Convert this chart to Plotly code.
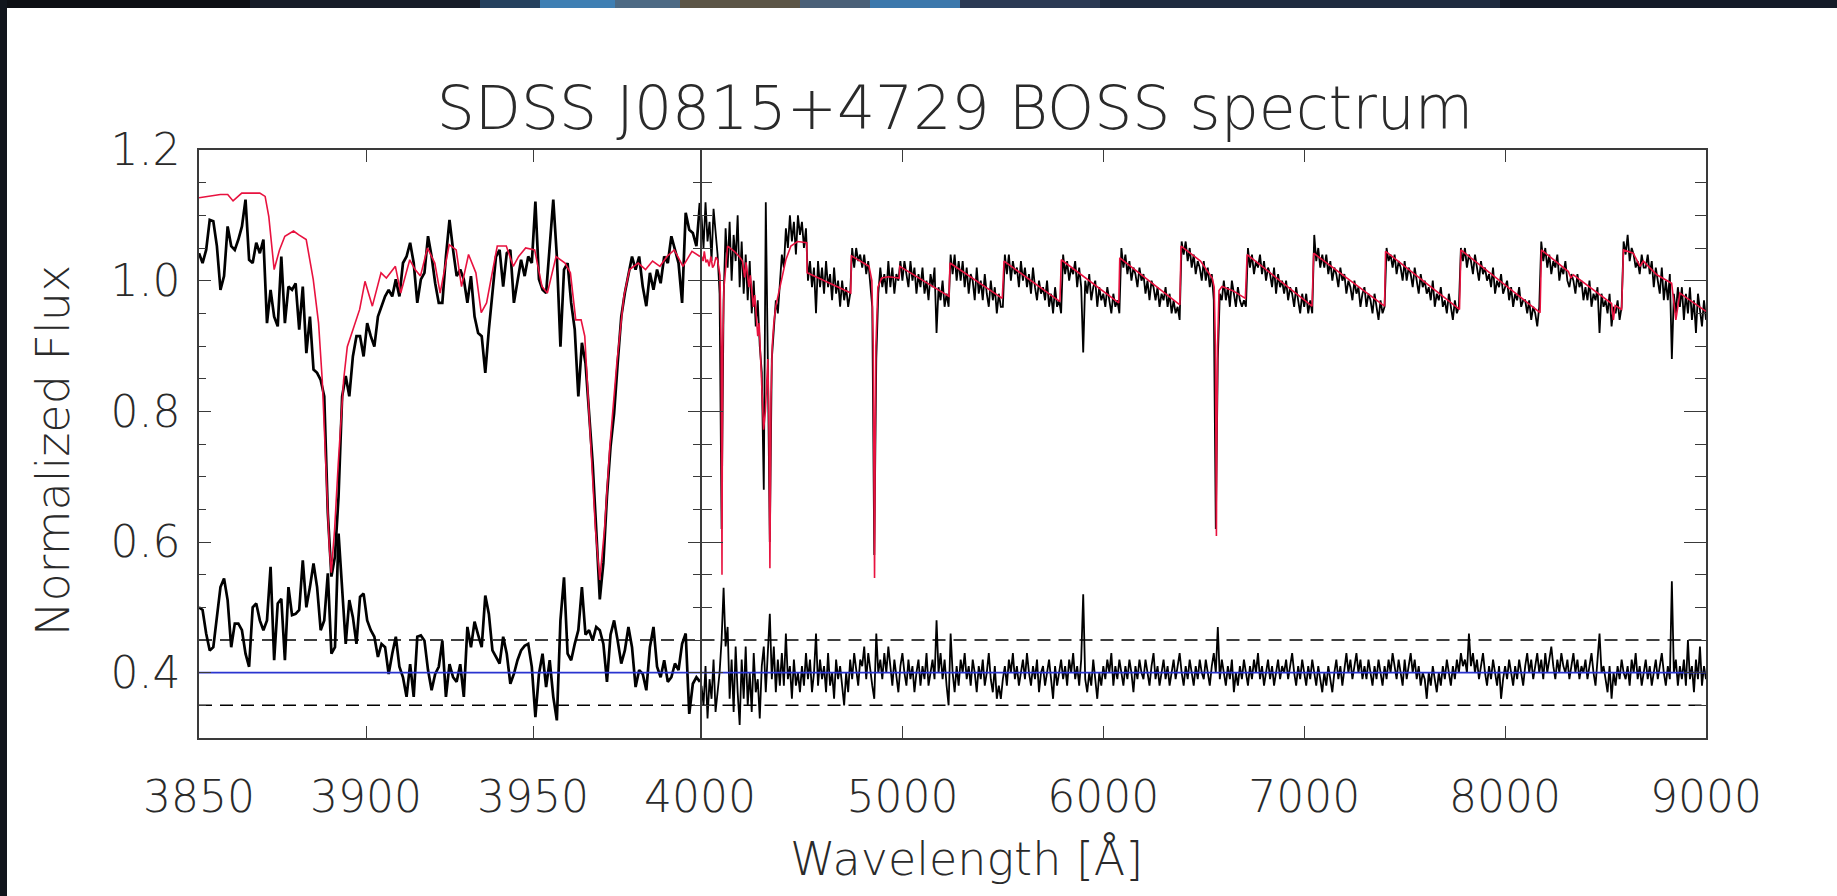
import numpy as np
import plotly.graph_objects as go

# ---------------- data ----------------
# Blue-end zoom panel (3850-4000 A): observed spectrum on a 141-pixel grid
wl_blue = np.linspace(3850, 4000, 141)
flux_blue = [
    1.042, 1.027, 1.047, 1.093, 1.091, 1.053, 0.986, 1.007, 1.083, 1.053,
    1.047, 1.063, 1.083, 1.124, 1.032, 1.027, 1.058, 1.042, 1.063, 0.935,
    0.986, 0.945, 0.930, 1.037, 0.935, 0.991, 0.986, 0.996, 0.925, 0.991,
    0.889, 0.945, 0.864, 0.859, 0.848, 0.823, 0.644, 0.547, 0.578, 0.670,
    0.823, 0.854, 0.823, 0.884, 0.915, 0.915, 0.884, 0.935, 0.915, 0.899,
    0.945, 0.961, 0.976, 0.986, 0.976, 1.002, 0.976, 1.027, 1.037, 1.058,
    1.027, 0.966, 1.002, 1.012, 1.068, 1.037, 0.996, 0.966, 0.966, 1.037,
    1.093, 1.047, 1.007, 1.017, 1.002, 0.966, 1.007, 0.945, 0.920, 0.915,
    0.859, 0.925, 0.986, 1.037, 1.047, 0.991, 1.042, 1.047, 0.966, 1.002,
    1.032, 1.007, 1.037, 1.027, 1.121, 1.002, 0.986, 0.981, 1.047, 1.124,
    1.037, 0.899, 1.017, 1.027, 0.966, 0.925, 0.823, 0.905, 0.874, 0.797,
    0.721, 0.619, 0.512, 0.568, 0.670, 0.746, 0.797, 0.874, 0.945, 0.981,
    1.007, 1.037, 1.017, 1.037, 0.991, 0.961, 1.012, 0.986, 1.017, 0.996,
    1.037, 1.027, 1.068, 1.047, 1.027, 0.966, 1.104, 1.078, 1.073, 1.053,
    1.119]
resid_blue = [
    0.500, 0.496, 0.460, 0.434, 0.439, 0.490, 0.531, 0.544, 0.511, 0.439,
    0.475, 0.475, 0.465, 0.429, 0.409, 0.500, 0.506, 0.480, 0.465, 0.480,
    0.562, 0.419, 0.506, 0.513, 0.419, 0.531, 0.488, 0.490, 0.496, 0.572,
    0.500, 0.531, 0.567, 0.531, 0.465, 0.480, 0.552, 0.429, 0.439, 0.613,
    0.531, 0.444, 0.511, 0.485, 0.444, 0.516, 0.521, 0.480, 0.465, 0.455,
    0.424, 0.444, 0.439, 0.398, 0.429, 0.455, 0.409, 0.393, 0.363, 0.413,
    0.363, 0.455, 0.457, 0.449, 0.404, 0.373, 0.398, 0.409, 0.449, 0.363,
    0.413, 0.393, 0.386, 0.413, 0.363, 0.470, 0.439, 0.478, 0.458, 0.439,
    0.518, 0.490, 0.434, 0.424, 0.414, 0.455, 0.429, 0.383, 0.398, 0.419,
    0.434, 0.441, 0.444, 0.409, 0.332, 0.398, 0.429, 0.378, 0.419, 0.363,
    0.327, 0.480, 0.546, 0.429, 0.419, 0.444, 0.465, 0.531, 0.458, 0.465,
    0.449, 0.470, 0.465, 0.444, 0.386, 0.458, 0.480, 0.449, 0.414, 0.434,
    0.470, 0.439, 0.378, 0.404, 0.398, 0.373, 0.439, 0.470, 0.409, 0.393,
    0.419, 0.386, 0.393, 0.414, 0.404, 0.444, 0.460, 0.337, 0.383, 0.393,
    0.386]
model_blue_wl = [
    3850.0, 3856.4, 3858.6, 3860.2, 3862.8, 3868.2, 3869.8, 3870.9, 3872.5, 3874.1,
    3875.7, 3878.3, 3879.9, 3882.1, 3884.2, 3885.8, 3886.9, 3888.0, 3889.0, 3889.6,
    3890.6, 3891.7, 3893.3, 3894.4, 3896.5, 3898.1, 3899.7, 3901.9, 3904.5, 3906.1,
    3908.8, 3910.4, 3913.1, 3914.7, 3916.3, 3918.4, 3920.6, 3922.2, 3924.9, 3927.0,
    3928.6, 3930.7, 3932.9, 3934.5, 3936.1, 3937.7, 3939.3, 3942.0, 3944.1, 3945.7,
    3947.8, 3950.5, 3952.7, 3954.3, 3956.9, 3959.6, 3961.2, 3962.8, 3964.4, 3965.5,
    3967.1, 3968.7, 3970.0, 3971.4, 3973.0, 3975.1, 3977.2, 3978.9, 3981.5, 3983.7,
    3985.8, 3988.0, 3990.1, 3992.3, 3994.9, 3997.6, 4000.0]
model_blue_flux = [
    1.127, 1.132, 1.132, 1.122, 1.134, 1.134, 1.129, 1.098, 1.017, 1.047,
    1.068, 1.076, 1.070, 1.063, 1.002, 0.935, 0.848, 0.721, 0.593, 0.553,
    0.619, 0.721, 0.848, 0.899, 0.930, 0.956, 0.999, 0.961, 1.012, 1.004,
    1.022, 0.981, 1.032, 1.017, 1.007, 1.050, 1.027, 0.981, 1.055, 1.047,
    0.991, 1.040, 1.012, 0.951, 0.966, 1.007, 1.053, 1.053, 1.022, 1.037,
    1.050, 1.047, 0.991, 0.981, 1.037, 1.027, 1.012, 0.940, 0.940, 0.915,
    0.772, 0.619, 0.542, 0.619, 0.746, 0.874, 0.976, 1.017, 1.027, 1.017,
    1.030, 1.022, 1.037, 1.047, 1.022, 1.045, 1.037]

# Full BOSS range panel (4000-9000 A): observed spectrum, 10 A sampling
wl_red = np.arange(4000, 9001, 10)
flux_red = [
    1.10, 1.05, 1.12, 1.06, 1.09, 1.03, 1.11, 1.07, 1.04, 0.98,  # 4000
    0.62, 0.97, 1.08, 1.02, 1.09, 1.00, 1.07, 1.03, 1.10, 0.99,  # 4100
    1.06, 0.98, 1.04, 0.97, 1.03, 0.95, 1.00, 0.93, 0.97, 0.90,  # 4200
    0.86, 0.68, 1.12, 0.88, 0.60, 0.88, 0.93, 0.97, 0.95, 1.00,  # 4300
    1.04, 1.02, 1.08, 1.05, 1.10, 1.06, 1.09, 1.04, 1.10, 1.07,  # 4400
    1.09, 1.05, 1.08, 1.00, 1.03, 0.99, 1.02, 0.95, 1.03, 0.99,  # 4500
    1.02, 0.98, 1.03, 0.99, 1.01, 0.97, 1.02, 0.98, 1.00, 0.96,  # 4600
    1.00, 0.97, 0.99, 0.96, 0.98, 1.05, 1.02, 1.05, 1.03, 1.04,  # 4700
    1.02, 1.04, 1.01, 1.03, 1.00, 0.96, 0.58, 0.88, 0.98, 1.02,  # 4800
    0.99, 1.01, 0.98, 1.03, 0.99, 1.02, 0.98, 1.01, 1.00, 1.03,  # 4900
    1.00, 1.03, 1.01, 0.99, 1.03, 1.00, 1.02, 0.98, 1.01, 0.99,  # 5000
    1.02, 0.98, 1.00, 0.97, 1.01, 0.99, 1.02, 0.92, 0.99, 0.97,  # 5100
    1.00, 0.96, 0.98, 0.96, 1.04, 1.01, 1.04, 1.00, 1.03, 1.00,  # 5200
    1.03, 0.99, 1.02, 0.98, 1.01, 1.00, 0.97, 1.02, 0.98, 1.00,  # 5300
    0.97, 1.01, 0.98, 0.96, 1.00, 0.97, 0.99, 0.95, 0.98, 0.96,  # 5400
    0.96, 1.04, 1.01, 1.04, 1.00, 1.03, 1.01, 1.02, 0.99, 1.03,  # 5500
    1.00, 1.02, 0.99, 1.01, 0.98, 1.02, 0.99, 0.97, 1.00, 0.98,  # 5600
    0.99, 0.97, 1.00, 0.96, 0.98, 0.95, 0.99, 0.96, 0.97, 0.95,  # 5700
    1.04, 1.01, 1.03, 1.00, 1.02, 1.01, 1.03, 0.99, 1.02, 0.99,  # 5800
    0.89, 1.00, 0.98, 1.01, 0.97, 0.99, 1.00, 0.96, 0.99, 0.97,  # 5900
    0.98, 0.96, 0.99, 0.97, 0.95, 0.98, 0.96, 0.97, 0.95, 1.05,  # 6000
    1.02, 1.04, 1.01, 1.03, 1.00, 1.02, 1.01, 0.99, 1.02, 1.00,  # 6100
    1.01, 0.98, 1.00, 0.97, 1.00, 0.99, 0.97, 0.99, 0.96, 0.98,  # 6200
    0.97, 0.99, 0.96, 0.98, 0.95, 0.97, 0.95, 0.96, 0.94, 1.06,  # 6300
    1.04, 1.06, 1.03, 1.05, 1.02, 1.04, 1.01, 1.03, 1.02, 1.00,  # 6400
    1.03, 1.00, 1.02, 0.99, 1.01, 0.97, 0.62, 0.88, 0.98, 0.97,  # 6500
    1.00, 0.97, 0.99, 0.96, 1.00, 0.98, 0.96, 0.99, 0.97, 0.96,  # 6600
    0.97, 0.96, 1.05, 1.02, 1.04, 1.01, 1.03, 1.02, 1.04, 1.01,  # 6700
    1.03, 1.00, 1.02, 1.01, 0.99, 1.02, 0.98, 1.01, 0.99, 1.00,  # 6800
    0.98, 1.00, 0.97, 0.99, 0.98, 0.96, 0.99, 0.97, 0.95, 0.98,  # 6900
    0.96, 0.98, 0.95, 0.97, 0.95, 1.07, 1.03, 1.05, 1.02, 1.04,  # 7000
    1.02, 1.04, 1.01, 1.03, 1.00, 1.02, 1.01, 0.99, 1.02, 1.00,  # 7100
    1.01, 0.98, 1.00, 0.99, 0.97, 1.00, 0.98, 0.99, 0.96, 0.98,  # 7200
    0.99, 0.96, 0.98, 0.97, 0.95, 0.98, 0.96, 0.94, 0.97, 0.95,  # 7300
    0.96, 1.05, 1.03, 1.04, 1.02, 1.04, 1.01, 1.03, 1.02, 1.00,  # 7400
    1.03, 1.00, 1.02, 1.01, 0.99, 1.02, 1.00, 0.98, 1.01, 0.99,  # 7500
    1.00, 0.98, 0.99, 0.97, 1.00, 0.96, 0.98, 0.97, 0.99, 0.96,  # 7600
    0.97, 0.95, 0.98, 0.96, 0.94, 0.97, 0.95, 0.96, 1.05, 1.03,  # 7700
    1.05, 1.02, 1.04, 1.03, 1.01, 1.04, 1.02, 1.00, 1.03, 1.01,  # 7800
    1.02, 1.00, 1.01, 0.99, 1.02, 0.98, 1.00, 0.99, 1.01, 0.98,  # 7900
    0.99, 1.00, 0.97, 0.99, 0.96, 0.98, 0.97, 0.99, 0.96, 0.97,  # 8000
    0.97, 0.95, 0.97, 0.94, 0.96, 0.95, 0.93, 0.96, 1.06, 1.03,  # 8100
    1.05, 1.02, 1.04, 1.01, 1.03, 1.02, 1.04, 1.00, 1.02, 1.01,  # 8200
    1.03, 1.00, 0.99, 1.01, 1.00, 0.98, 1.01, 0.99, 1.00, 0.97,  # 8300
    0.99, 0.97, 1.00, 0.96, 0.98, 0.97, 0.99, 0.92, 0.98, 0.96,  # 8400
    0.97, 0.95, 0.98, 0.93, 0.96, 0.95, 0.97, 0.94, 0.96, 1.06,  # 8500
    1.04, 1.07, 1.03, 1.05, 1.04, 1.02, 1.03, 1.01, 1.04, 1.02,  # 8600
    1.02, 1.04, 1.01, 1.03, 0.99, 1.02, 1.00, 0.98, 1.02, 0.97,  # 8700
    1.00, 0.97, 1.01, 0.88, 0.98, 0.95, 0.99, 0.96, 0.99, 0.94,  # 8800
    0.98, 0.95, 0.99, 0.94, 0.97, 0.92, 0.98, 0.95, 0.93, 0.97,  # 8900
    0.94]
resid_red = [
    0.38, 0.35, 0.41, 0.33, 0.39, 0.36, 0.42, 0.34, 0.37, 0.40,  # 4000
    0.45, 0.53, 0.44, 0.47, 0.36, 0.42, 0.34, 0.44, 0.37, 0.32,  # 4100
    0.42, 0.36, 0.44, 0.35, 0.40, 0.34, 0.43, 0.37, 0.39, 0.33,  # 4200
    0.41, 0.44, 0.37, 0.43, 0.49, 0.39, 0.44, 0.37, 0.42, 0.38,  # 4300
    0.43, 0.38, 0.46, 0.39, 0.41, 0.36, 0.42, 0.38, 0.40, 0.37,  # 4400
    0.41, 0.38, 0.43, 0.39, 0.42, 0.37, 0.40, 0.46, 0.38, 0.42,  # 4500
    0.39, 0.41, 0.37, 0.43, 0.38, 0.40, 0.36, 0.42, 0.39, 0.41,  # 4600
    0.38, 0.35, 0.40, 0.37, 0.42, 0.39, 0.43, 0.40, 0.38, 0.42,  # 4700
    0.41, 0.44, 0.39, 0.43, 0.40, 0.38, 0.36, 0.46, 0.40, 0.42,  # 4800
    0.39, 0.43, 0.40, 0.44, 0.41, 0.38, 0.42, 0.39, 0.37, 0.41,  # 4900
    0.43, 0.40, 0.38, 0.42, 0.39, 0.41, 0.37, 0.40, 0.42, 0.38,  # 5000
    0.41, 0.39, 0.43, 0.38, 0.40, 0.42, 0.39, 0.48, 0.40, 0.43,  # 5100
    0.39, 0.42, 0.38, 0.35, 0.46, 0.40, 0.37, 0.41, 0.38, 0.42,  # 5200
    0.40, 0.43, 0.39, 0.41, 0.38, 0.42, 0.40, 0.37, 0.41, 0.39,  # 5300
    0.42, 0.38, 0.40, 0.43, 0.39, 0.37, 0.41, 0.36, 0.38, 0.36,  # 5400
    0.39, 0.41, 0.38, 0.42, 0.40, 0.43, 0.39, 0.41, 0.38, 0.40,  # 5500
    0.42, 0.39, 0.43, 0.40, 0.38, 0.41, 0.39, 0.42, 0.37, 0.40,  # 5600
    0.41, 0.38, 0.40, 0.42, 0.39, 0.36, 0.41, 0.38, 0.40, 0.42,  # 5700
    0.39, 0.41, 0.38, 0.42, 0.40, 0.43, 0.39, 0.41, 0.38, 0.42,  # 5800
    0.52, 0.39, 0.37, 0.40, 0.38, 0.42, 0.39, 0.36, 0.40, 0.38,  # 5900
    0.41, 0.39, 0.42, 0.40, 0.43, 0.38, 0.41, 0.39, 0.42, 0.40,  # 6000
    0.38, 0.41, 0.39, 0.42, 0.40, 0.37, 0.41, 0.39, 0.42, 0.40,  # 6100
    0.39, 0.42, 0.40, 0.38, 0.41, 0.43, 0.39, 0.41, 0.38, 0.40,  # 6200
    0.42, 0.39, 0.41, 0.38, 0.40, 0.42, 0.39, 0.41, 0.43, 0.40,  # 6300
    0.38, 0.41, 0.39, 0.42, 0.40, 0.38, 0.41, 0.39, 0.42, 0.40,  # 6400
    0.39, 0.42, 0.40, 0.38, 0.41, 0.43, 0.40, 0.47, 0.39, 0.42,  # 6500
    0.40, 0.38, 0.41, 0.39, 0.42, 0.37, 0.40, 0.38, 0.41, 0.39,  # 6600
    0.42, 0.40, 0.38, 0.41, 0.39, 0.42, 0.40, 0.43, 0.39, 0.41,  # 6700
    0.38, 0.40, 0.42, 0.39, 0.41, 0.38, 0.40, 0.42, 0.39, 0.41,  # 6800
    0.40, 0.42, 0.39, 0.41, 0.43, 0.40, 0.38, 0.41, 0.39, 0.42,  # 6900
    0.40, 0.38, 0.41, 0.39, 0.42, 0.40, 0.38, 0.41, 0.39, 0.37,  # 7000
    0.40, 0.38, 0.41, 0.39, 0.37, 0.40, 0.42, 0.39, 0.41, 0.38,  # 7100
    0.41, 0.43, 0.40, 0.42, 0.39, 0.41, 0.43, 0.40, 0.42, 0.39,  # 7200
    0.41, 0.39, 0.42, 0.40, 0.38, 0.41, 0.39, 0.42, 0.40, 0.38,  # 7300
    0.41, 0.39, 0.42, 0.40, 0.43, 0.41, 0.39, 0.42, 0.40, 0.38,  # 7400
    0.42, 0.39, 0.41, 0.43, 0.40, 0.42, 0.39, 0.41, 0.38, 0.40,  # 7500
    0.39, 0.36, 0.40, 0.38, 0.41, 0.39, 0.37, 0.40, 0.38, 0.41,  # 7600
    0.39, 0.42, 0.40, 0.38, 0.41, 0.39, 0.42, 0.40, 0.43, 0.41,  # 7700
    0.42, 0.40, 0.46, 0.41, 0.43, 0.40, 0.42, 0.39, 0.41, 0.43,  # 7800
    0.40, 0.38, 0.41, 0.39, 0.42, 0.40, 0.38, 0.41, 0.36, 0.39,  # 7900
    0.41, 0.39, 0.42, 0.40, 0.38, 0.41, 0.39, 0.42, 0.40, 0.38,  # 8000
    0.41, 0.43, 0.40, 0.42, 0.39, 0.41, 0.43, 0.40, 0.42, 0.39,  # 8100
    0.43, 0.40, 0.42, 0.44, 0.41, 0.39, 0.42, 0.40, 0.43, 0.41,  # 8200
    0.40, 0.42, 0.39, 0.41, 0.43, 0.40, 0.42, 0.39, 0.41, 0.40,  # 8300
    0.42, 0.39, 0.41, 0.43, 0.40, 0.38, 0.42, 0.46, 0.40, 0.41,  # 8400
    0.39, 0.37, 0.41, 0.36, 0.40, 0.38, 0.41, 0.39, 0.42, 0.40,  # 8500
    0.39, 0.41, 0.38, 0.42, 0.40, 0.43, 0.39, 0.41, 0.38, 0.40,  # 8600
    0.42, 0.39, 0.41, 0.38, 0.40, 0.42, 0.39, 0.41, 0.43, 0.40,  # 8700
    0.38, 0.41, 0.39, 0.54, 0.40, 0.42, 0.38, 0.41, 0.39, 0.42,  # 8800
    0.38, 0.45, 0.39, 0.41, 0.37, 0.42, 0.39, 0.44, 0.38, 0.41,  # 8900
    0.39]
model_red_wl = [
    4000, 4008, 4014, 4022, 4030, 4038, 4047, 4055, 4063, 4072, 4080, 4092,
    4098, 4100.5, 4102, 4103.5, 4106, 4112, 4121, 4130, 4163, 4188, 4204,
    4215, 4222, 4236, 4243, 4258, 4265, 4280, 4287, 4300, 4309, 4318, 4324,
    4330, 4335, 4338, 4340.5, 4343, 4346, 4352, 4360, 4370, 4395, 4420, 4445,
    4478, 4524, 4526, 4743, 4746, 4834, 4848, 4855, 4859, 4861.3, 4864, 4868,
    4878, 4897, 4930, 4984, 4987, 5232, 5237, 5497, 5506, 5784, 5791, 6077,
    6082, 6381, 6387, 6484, 6542, 6552, 6558, 6561, 6563, 6565, 6569, 6576,
    6591, 6649, 6707, 6716, 7039, 7047, 7400, 7405, 7773, 7780, 8174, 8181,
    8315, 8327, 8340, 8530, 8539, 8548, 8580, 8589, 8638, 8672, 8688, 8755,
    8829, 8850, 8870, 9000]
model_red_flux = [
    1.037, 1.030, 1.045, 1.028, 1.032, 1.022, 1.037, 1.020, 1.024, 1.036, 1.032, 1.008,
    0.900, 0.720, 0.550, 0.720, 0.900, 0.990, 1.022, 1.053, 1.045, 1.037, 1.030,
    1.005, 1.028, 0.990, 1.008, 0.960, 0.978, 0.915, 0.935, 0.843, 0.772, 0.800, 0.840,
    0.880, 0.800, 0.680, 0.560, 0.680, 0.820, 0.900, 0.935, 0.961, 0.996, 1.032, 1.053,
    1.060, 1.058, 1.012, 0.981, 1.038, 1.022, 1.000, 0.900, 0.720, 0.545, 0.720, 0.900,
    0.990, 1.004, 1.006, 1.004, 1.022, 0.976, 1.027, 0.973, 1.030, 0.968, 1.032, 0.966,
    1.035, 0.963, 1.053, 1.030, 1.004, 0.990, 0.900, 0.750, 0.609, 0.750, 0.900, 0.985,
    0.991, 0.984, 0.973, 1.040, 0.961, 1.042, 0.961, 1.045, 0.956, 1.047, 0.951, 1.047,
    1.014, 1.004, 1.009, 0.965, 0.940, 0.962, 0.956, 1.047, 1.042, 1.022, 1.030, 1.009,
    0.996, 0.940, 0.981, 0.953]

resid_offset = 0.4          # residual zero level
resid_limits = [0.35, 0.45]  # dashed reference levels

# ---------------- styling ----------------
FONT = "DejaVu Sans"
TXT = "#2a2a2a"
FRAME = "#3a3a3a"
RED = "#e8123f"
BLUE = "#2a35d0"
W, H = 1837, 896
ML, MR, MT, MB = 199, 131, 150, 158
PW = W - ML - MR
PH = H - MT - MB
LW = 1.5
split_l = 501.0 / PW
split_r = (501.0 + LW) / PW

fig = go.Figure()

# left panel
fig.add_trace(go.Scatter(x=wl_blue, y=flux_blue, mode="lines",
                         line=dict(color="black", width=2.7), xaxis="x", yaxis="y"))
fig.add_trace(go.Scatter(x=model_blue_wl, y=model_blue_flux, mode="lines",
                         line=dict(color=RED, width=1.6), xaxis="x", yaxis="y"))
fig.add_trace(go.Scatter(x=wl_blue, y=resid_blue, mode="lines",
                         line=dict(color="black", width=2.7), xaxis="x", yaxis="y"))
# right panel
fig.add_trace(go.Scatter(x=wl_red, y=flux_red, mode="lines",
                         line=dict(color="black", width=1.8), xaxis="x2", yaxis="y2"))
fig.add_trace(go.Scatter(x=model_red_wl, y=model_red_flux, mode="lines",
                         line=dict(color=RED, width=1.6), xaxis="x2", yaxis="y2"))
fig.add_trace(go.Scatter(x=wl_red, y=resid_red, mode="lines",
                         line=dict(color="black", width=1.8), xaxis="x2", yaxis="y2"))

# zero level and dashed limits in both panels
for xa, ya, xr in (("x", "y", [3850, 4000]), ("x2", "y2", [4000, 9000])):
    fig.add_trace(go.Scatter(x=xr, y=[resid_offset, resid_offset], mode="lines",
                             line=dict(color=BLUE, width=1.6), xaxis=xa, yaxis=ya))
    for lv in resid_limits:
        fig.add_trace(go.Scatter(x=xr, y=[lv, lv], mode="lines",
                                 line=dict(color="black", width=1.5, dash="13px,8px"),
                                 xaxis=xa, yaxis=ya))

tickfont = dict(family=FONT, size=44, color=TXT, weight=200)
minor_y = [round(0.3 + 0.05 * i, 2) for i in range(19)]
common_x = dict(showgrid=False, zeroline=False, showline=True, linecolor=FRAME,
                linewidth=LW, mirror="ticks", ticks="inside", ticklen=12,
                tickwidth=1.3, tickcolor=FRAME, tickfont=tickfont, ticklabelstandoff=19)
common_y = dict(showgrid=False, zeroline=False, showline=True, linecolor=FRAME,
                linewidth=LW, mirror="ticks", ticks="inside", tickwidth=1.3,
                tickcolor=FRAME, range=[0.3, 1.2], domain=[0, 1])

fig.update_layout(
    width=W, height=H,
    margin=dict(l=ML, r=MR, t=MT, b=MB),
    paper_bgcolor="white", plot_bgcolor="white",
    showlegend=False,
    title=dict(text="SDSS J0815+4729 BOSS spectrum", x=955 / W, xref="container",
               y=1 - 108 / H, yref="container", xanchor="center", yanchor="middle",
               font=dict(family=FONT, size=60, color=TXT, weight=200)),
    xaxis=dict(domain=[0, split_l], range=[3850, 4000], anchor="y",
               tickvals=[3850, 3900, 3950, 4000],
               ticktext=["3850", "3900", "3950", "4000"], **common_x),
    xaxis2=dict(domain=[split_r, 1], range=[4000, 9000], anchor="y2",
                tickvals=[5000, 6000, 7000, 8000, 9000],
                ticktext=["5000", "6000", "7000", "8000", "9000"], **common_x),
    yaxis=dict(anchor="x", ticklen=12, tickvals=[0.4, 0.6, 0.8, 1.0, 1.2],
               ticktext=["0.4", "0.6", "0.8", "1.0", "1.2"], tickfont=tickfont,
               ticklabelstandoff=8,
               minor=dict(tickvals=minor_y, ticklen=7, ticks="inside",
                          tickcolor=FRAME, tickwidth=1.2),
               **common_y),
    yaxis2=dict(anchor="x2", ticklen=22, tickvals=[0.4, 0.6, 0.8, 1.0, 1.2],
                showticklabels=False,
                minor=dict(tickvals=minor_y, ticklen=11, ticks="inside",
                           tickcolor=FRAME, tickwidth=1.2),
                **common_y),
)

# axis titles
fig.add_annotation(text="Normalized Flux", textangle=-90, showarrow=False,
                   xref="paper", yref="paper", x=(53 - ML) / PW, y=(H - MB - 451) / PH,
                   xanchor="center", yanchor="middle",
                   font=dict(family=FONT, size=46, color=TXT, weight=200))
fig.add_annotation(text="Wavelength [Å]", showarrow=False,
                   xref="paper", yref="paper", x=(966 - ML) / PW, y=(H - MB - 859) / PH,
                   xanchor="center", yanchor="middle",
                   font=dict(family=FONT, size=46, color=TXT, weight=200))

# dark picture border (top strip and left strip)
def px(xp):
    return (xp - ML) / PW

def py(yp):
    return (H - MB - yp) / PH

top_strip = [(0, 250, "#0d0f14"), (250, 480, "#171d28"), (480, 540, "#26425f"),
             (540, 615, "#3f7fb3"), (615, 680, "#4d6a84"), (680, 800, "#5c5546"),
             (800, 870, "#4a6078"), (870, 960, "#3c78ac"), (960, 1100, "#2b3a54"),
             (1100, 1500, "#1f2b40"), (1500, 1837, "#141b28")]
for x0, x1, c in top_strip:
    fig.add_shape(type="rect", xref="paper", yref="paper", x0=px(x0), x1=px(x1),
                  y0=py(8), y1=py(0), fillcolor=c, line=dict(width=0), layer="above")
fig.add_shape(type="rect", xref="paper", yref="paper", x0=px(0), x1=px(7),
              y0=py(H), y1=py(0), fillcolor="#11151c", line=dict(width=0), layer="above")

fig.write_html("out.html")
